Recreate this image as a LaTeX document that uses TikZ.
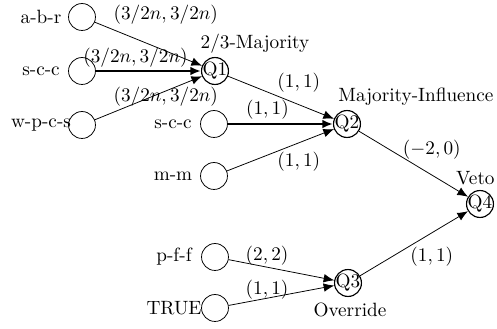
\documentclass[tikz,border=0pt]{standalone}
\usetikzlibrary{arrows.meta}
\begin{document}
\begin{tikzpicture}[x=0.52pt,y=-0.52pt,
  inp/.style={circle,draw,minimum size=14pt,inner sep=0pt,label={[xshift=-21.3pt,inner sep=0pt]center:#1}},
  qn/.style={circle,draw,semithick,minimum size=14pt,inner sep=0pt},
  tag/.style={inner sep=0pt},
  wt/.style={inner sep=0pt},
  edge/.style={-{Latex[length=5.5pt,width=4.5pt]}},
  heavy/.style={edge,line width=1.2pt}]
\useasboundingbox (0,0) rectangle (497,329);
% input circles
\node[inp=a-b-r] (abr) at (82,17) {};
\node[inp=s-c-c] (scc1) at (82,71) {};
\node[inp=w-p-c-s] (wpcs) at (82,125) {};
\node[inp=s-c-c] (scc2) at (214,124) {};
\node[inp=m-m] (mm) at (214,176) {};
\node[inp=p-f-f] (pff) at (215,257) {};
\node[inp=TRUE] (tru) at (215,308) {};
% quantifier nodes
\node[qn] (q1) at (215,71) {\makebox[0pt]{Q1}};
\node[qn] (q2) at (347,124) {\makebox[0pt]{Q2}};
\node[qn] (q3) at (348,283) {\makebox[0pt]{Q3}};
\node[qn] (q4) at (480,204) {\makebox[0pt]{Q4}};
% node titles
\node[tag] (t1) at (255,44) {2/3-Majority};
\node[tag] (t2) at (416,97) {Majority-Influence};
\node[tag,anchor=east] (t4) at (495,178) {Veto};
\node[tag] (t3) at (350,310) {Override};
% edges
\draw[edge] (abr) -- node[wt,pos=0.662,yshift=18.7pt]{$(3/2n,3/2n)$} (q1);
\draw[heavy] (scc1) -- node[wt,pos=0.377,yshift=7pt]{$(3/2n,3/2n)$} (q1);
\draw[edge] (wpcs) -- node[wt,pos=0.662,yshift=-3.2pt]{$(3/2n,3/2n)$} (q1);
\draw[edge] (q1) -- node[wt,pos=0.668,yshift=11.3pt]{$(1,1)$} (q2);
\draw[heavy] (scc2) -- node[wt,pos=0.377,yshift=7.3pt]{$(1,1)$} (q2);
\draw[edge] (mm) -- node[wt,pos=0.672,yshift=-10pt]{$(1,1)$} (q2);
\draw[edge] (q2) -- node[wt,pos=0.668,yshift=13pt]{$(-2,0)$} (q4);
\draw[edge] (q3) -- node[wt,pos=0.665,yshift=-12.6pt]{$(1,1)$} (q4);
\draw[edge] (pff) -- node[wt,pos=0.364,yshift=5.8pt]{$(2,2)$} (q3);
\draw[edge] (tru) -- node[wt,pos=0.364,yshift=4.3pt]{$(1,1)$} (q3);
\end{tikzpicture}
\end{document}
